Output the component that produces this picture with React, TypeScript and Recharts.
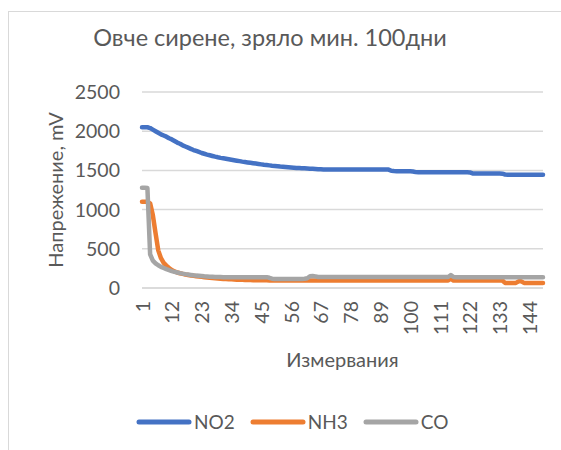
import React from 'react';
import { LineChart, Line, XAxis, YAxis, CartesianGrid, Legend } from 'recharts';

// measurement numbers 1..149
const measurements = Array.from({ length: 149 }, (_, i) => i + 1);

const no2 = [
  2050, 2050, 2050, 2040, 2020, 2000, 1980, 1960, 1945, 1930,
  1910, 1895, 1875, 1855, 1840, 1820, 1805, 1790, 1775, 1760,
  1748, 1735, 1722, 1712, 1702, 1693, 1684, 1675, 1667, 1660,
  1654, 1648, 1642, 1636, 1630, 1624, 1618, 1612, 1607, 1602,
  1597, 1592, 1587, 1582, 1577, 1572, 1568, 1564, 1560, 1557,
  1554, 1550, 1547, 1544, 1541, 1538, 1535, 1532, 1530, 1528,
  1526, 1524, 1522, 1520, 1518, 1516, 1514, 1512, 1511, 1510,
  1510, 1510, 1510, 1510, 1510, 1510, 1510, 1510, 1510, 1510,
  1510, 1510, 1510, 1510, 1510, 1510, 1510, 1510, 1510, 1510,
  1510, 1510, 1495, 1492, 1490, 1490, 1490, 1490, 1490, 1488,
  1485, 1478, 1476, 1475, 1475, 1475, 1475, 1475, 1475, 1475,
  1475, 1475, 1475, 1475, 1475, 1475, 1475, 1475, 1475, 1475,
  1475, 1474, 1462, 1460, 1460, 1460, 1460, 1460, 1460, 1460,
  1460, 1460, 1460, 1458, 1448, 1446, 1445, 1445, 1445, 1445,
  1445, 1445, 1445, 1445, 1445, 1445, 1445, 1445, 1445,
];

const nh3 = [
  1100, 1100, 1100, 1080, 930, 700, 480, 380, 320, 285,
  255, 230, 212, 198, 188, 180, 172, 166, 160, 155,
  150, 146, 142, 138, 134, 130, 127, 124, 121, 118,
  116, 114, 112, 110, 108, 106, 105, 104, 103, 102,
  101, 100, 100, 99, 99, 98, 98, 97, 97, 96,
  95, 95, 95, 95, 95, 95, 95, 95, 95, 95,
  95, 95, 95, 95, 95, 95, 95, 95, 95, 95,
  95, 95, 95, 95, 95, 95, 95, 95, 95, 95,
  95, 95, 95, 95, 95, 95, 95, 95, 95, 95,
  95, 95, 95, 95, 95, 95, 95, 95, 95, 95,
  95, 95, 95, 95, 95, 95, 95, 95, 95, 95,
  95, 95, 95, 95, 120, 95, 95, 95, 95, 95,
  95, 95, 95, 95, 95, 95, 95, 95, 95, 95,
  95, 95, 95, 95, 65, 65, 65, 65, 65, 85,
  85, 65, 65, 65, 65, 65, 65, 65, 65,
];

const co = [
  1280, 1280, 1275, 430, 350, 315, 290, 270, 255, 240,
  228, 216, 206, 198, 190, 183, 177, 172, 167, 162,
  158, 155, 152, 149, 147, 145, 143, 141, 140, 139,
  138, 138, 138, 138, 138, 138, 138, 138, 138, 138,
  138, 138, 138, 138, 138, 138, 138, 130, 118, 116,
  115, 115, 115, 115, 115, 115, 115, 115, 115, 115,
  118, 125, 150, 152, 148, 140, 140, 140, 140, 140,
  140, 140, 140, 140, 140, 140, 140, 140, 140, 140,
  140, 140, 140, 140, 140, 140, 140, 140, 140, 140,
  140, 140, 140, 140, 140, 140, 140, 140, 140, 140,
  140, 140, 140, 140, 140, 140, 140, 140, 140, 140,
  140, 140, 140, 140, 165, 140, 138, 138, 138, 138,
  138, 138, 138, 138, 138, 138, 138, 138, 138, 138,
  138, 138, 138, 138, 138, 138, 138, 138, 138, 138,
  138, 138, 138, 138, 138, 138, 138, 138, 138,
];

const yTicks = [0, 500, 1000, 1500, 2000, 2500];

const series = [
  { key: 'NO2', color: '#4472C4' },
  { key: 'NH3', color: '#ED7D31' },
  { key: 'CO', color: '#A5A5A5' },
];

const data = measurements.map((m, i) => ({ x: m, NO2: no2[i], NH3: nh3[i], CO: co[i] }));

const FONT = 'Lato, "Open Sans", sans-serif';
const TEXT = '#595959';
const TICK_SIZE = 19.5;
const AXIS_TITLE = 20;

const XTick = ({ x, y, payload }: any) => (
  <text
    x={x}
    y={y}
    transform={`rotate(-90, ${x}, ${y})`}
    textAnchor="end"
    dominantBaseline="central"
    fontSize={TICK_SIZE}
    fontFamily={FONT}
    fill={TEXT}
  >
    {payload.value}
  </text>
);

const LegendContent = () => (
  <div style={{ display: 'flex', alignItems: 'center', paddingLeft: 136, fontFamily: FONT, fontSize: 19, color: TEXT }}>
    {series.map((s) => (
      <div key={s.key} style={{ display: 'flex', alignItems: 'center', marginRight: 15 }}>
        <svg width={56} height={8}>
          <line x1={3} y1={4} x2={53} y2={4} stroke={s.color} strokeWidth={5} strokeLinecap="round" />
        </svg>
        <span style={{ marginLeft: 2 }}>{s.key}</span>
      </div>
    ))}
  </div>
);

export default function App() {
  return (
    <div style={{ position: 'absolute', left: 0, top: 0, width: 561, height: 450, overflow: 'hidden', background: '#fff' }}>
      <div style={{ position: 'absolute', left: 8, top: 11, width: 620, height: 520, border: '1px solid #d9d9d9' }} />
      <div
        style={{
          position: 'absolute', left: 0, top: 23, width: 540, textAlign: 'center',
          fontFamily: FONT, fontSize: 23.5, color: TEXT,
        }}
      >
        Овче сирене, зряло мин. 100дни
      </div>
      <div style={{ position: 'absolute', left: 0, top: 0 }}>
        <LineChart width={561} height={450} data={data} margin={{ top: 92, right: 18, bottom: 102, left: 0 }}>
          <CartesianGrid horizontal vertical={false} stroke="#d9d9d9" strokeWidth={1.5} />
          <XAxis
            dataKey="x"
            interval={10}
            height={60}
            tickLine={false}
            axisLine={{ stroke: '#d9d9d9', strokeWidth: 1.5 }}
            tickSize={0}
            tickMargin={13}
            tick={<XTick />}
            label={{ value: 'Измервания', position: 'bottom', offset: 5, fontSize: AXIS_TITLE, fontFamily: FONT, fill: TEXT }}
          />
          <YAxis
            width={142}
            domain={[0, 2500]}
            ticks={yTicks}
            axisLine={false}
            tickLine={false}
            tickSize={0}
            tickMargin={22}
            tick={{ fontSize: TICK_SIZE, fontFamily: FONT, fill: TEXT }}
            label={{
              content: ({ viewBox }: any) => (
                <text
                  x={viewBox.x + 55}
                  y={viewBox.y + viewBox.height / 2}
                  transform={`rotate(-90, ${viewBox.x + 55}, ${viewBox.y + viewBox.height / 2})`}
                  textAnchor="middle"
                  dominantBaseline="central"
                  fontSize={AXIS_TITLE}
                  fontFamily={FONT}
                  fill={TEXT}
                >
                  Напрежение, mV
                </text>
              ),
            }}
          />
          <Legend
            verticalAlign="middle"
            align="center"
            layout="horizontal"
            wrapperStyle={{ top: 410, left: 0, width: 561 }}
            content={<LegendContent />}
          />
          {series.map((s) => (
            <Line
              key={s.key}
              type="linear"
              dataKey={s.key}
              stroke={s.color}
              strokeWidth={4.5}
              strokeLinejoin="round"
              strokeLinecap="round"
              dot={false}
              isAnimationActive={false}
            />
          ))}
        </LineChart>
      </div>
    </div>
  );
}
